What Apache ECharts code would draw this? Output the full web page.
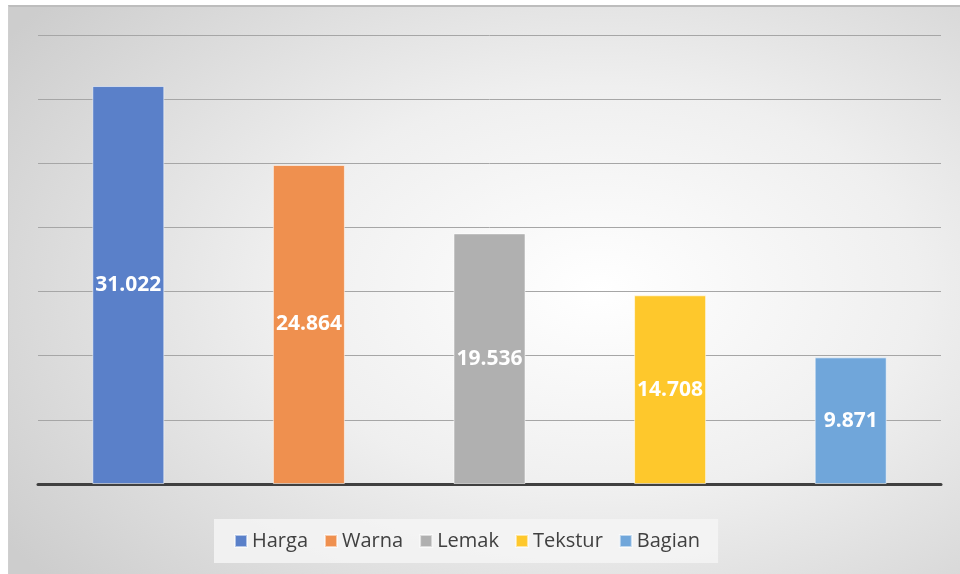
<!DOCTYPE html>
<html>
<head>
<meta charset="utf-8">
<script src="https://cdn.jsdelivr.net/npm/echarts@6/dist/echarts.min.js"></script>
<style>
  html, body { margin: 0; padding: 0; background: #fff; }
  #wrap {
    position: absolute; left: 8px; top: 5px; width: 952px; height: 569px;
    border-top: 2px solid #bdbdbd; border-left: 1px solid #cfcfcf;
    box-sizing: border-box;
    background: radial-gradient(ellipse 75% 80% at 62% 50%, #ffffff 0%, #efefef 45%, #cdcdcd 100%);
  }
  #chart { width: 100%; height: 100%; }
</style>
</head>
<body>
<div id="wrap"><div id="chart"></div></div>
<script>
var categories = ['Harga', 'Warna', 'Lemak', 'Tekstur', 'Bagian'];
var values = [31.022, 24.864, 19.536, 14.708, 9.871];
var colors = ['#5a80c9', '#ef904f', '#b0b0b0', '#fec82c', '#70a6da'];

var chart = echarts.init(document.getElementById('chart'));

// one series per category so each gets its own legend entry
var series = categories.map(function (name, i) {
  var data = categories.map(function (c, j) { return j === i ? values[i] : '-'; });
  return {
    name: name,
    type: 'bar',
    stack: 'one',
    barWidth: 72,
    data: data,
    itemStyle: {
      color: colors[i],
      borderColor: 'rgba(255,255,255,0.55)',
      borderWidth: 1
    },
    label: {
      show: true,
      position: 'inside',
      color: '#fff',
      fontWeight: 'bold',
      fontSize: 21,
      fontFamily: 'Open Sans',
      formatter: function (p) { return p.value.toFixed(3); }
    }
  };
});

var option = {
  animation: false,
  grid: { left: 29, right: 19, top: 28, bottom: 90 },
  legend: {
    bottom: 11,
    left: 205,
    itemWidth: 12,
    itemHeight: 12,
    itemGap: 16,
    icon: 'rect',
    padding: [12, 18, 12, 20],
    backgroundColor: 'rgba(245,245,245,0.85)',
    textStyle: { color: '#404040', fontSize: 20, fontFamily: 'Open Sans' },
    data: categories
  },
  xAxis: {
    type: 'category',
    data: categories,
    axisLine: { lineStyle: { color: '#404040', width: 3 } },
    axisTick: { show: false },
    axisLabel: { show: false }
  },
  yAxis: {
    type: 'value',
    min: 0,
    max: 35,
    interval: 5,
    axisLabel: { show: false },
    axisLine: { show: false },
    splitLine: { lineStyle: { color: '#a6a6a6', width: 1 } }
  },
  series: series
};
chart.setOption(option);
</script>
</body>
</html>
